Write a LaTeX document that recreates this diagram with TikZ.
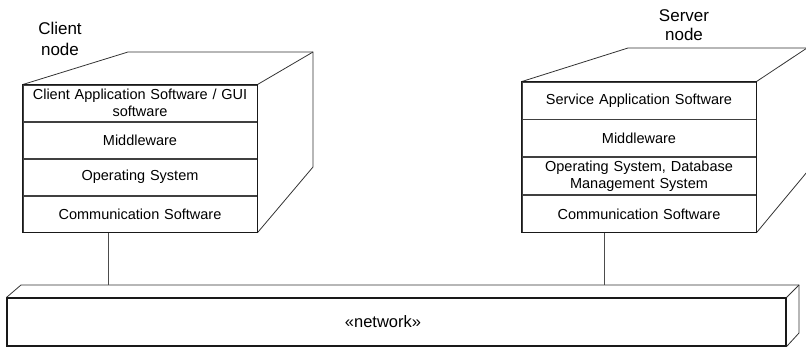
\documentclass[tikz,border=0pt]{standalone}
\usepackage{fontspec}
\setmainfont{Liberation Sans}
\usetikzlibrary{positioning,calc}

\begin{document}
\begin{tikzpicture}[x=1bp, y=-1bp,
    layer/.style={draw=black!75, line width=0.8pt, minimum width=234bp, text width=228bp, inner sep=0pt, align=center, font=\fontsize{14.5bp}{17bp}\selectfont},
    nodelabel/.style={align=center, inner sep=0pt, font=\fontsize{17bp}{21bp}\selectfont},
    face/.style={draw=black!90, line width=1.1pt},
    edge3d/.style={draw=black!80, line width=0.8pt},
    link/.style={draw=black!70, line width=0.9pt},
]
    \useasboundingbox (0,0) rectangle (806,348);

    % client node
    \node[nodelabel] (clabel) at (60,39) {Client\\node};
    \node[layer, minimum height=36.25bp] (capp) at (140,103.1) {Client Application Software / GUI\\software};
    \node[layer, minimum height=36.25bp, below=0pt of capp] (cmid)  {Middleware};
    \node[layer, minimum height=36.25bp, below=0pt of cmid]  (cos)   {Operating System};
    \node[layer, minimum height=36.25bp, below=0pt of cos]   (ccomm) {Communication Software};
    \coordinate (cbl) at (128,52);
    \coordinate (cbr) at (313,52);
    \coordinate (cbb) at (313,167);
    \draw[edge3d] (capp.north west) -- (cbl) -- (cbr) -- (cbb) -- (ccomm.south east);
    \draw[edge3d] (capp.north east) -- (cbr);
    \draw[face] (capp.north west) rectangle (ccomm.south east);

    % server node
    \node[nodelabel, font=\fontsize{17bp}{19bp}\selectfont] (slabel) at (684,25) {Server\\node};
    \node[layer, minimum height=37bp] (sapp) at (639,100.5) {Service Application Software};
    \node[layer, minimum height=37bp, below=0pt of sapp] (smid)  {Middleware};
    \node[layer, minimum height=37bp, below=0pt of smid] (sos)   {Operating System, Database\\Management System};
    \node[layer, minimum height=37bp, below=0pt of sos]  (scomm) {Communication Software};
    \coordinate (sbl) at (628,48);
    \coordinate (sbr) at (807,48);
    \coordinate (sbb) at (807,172);
    \draw[edge3d] (sapp.north west) -- (sbl) -- (sbr) -- (sbb) -- (scomm.south east);
    \draw[edge3d] (sapp.north east) -- (sbr);
    \draw[face] (sapp.north west) rectangle (scomm.south east);

    % network
    \node[draw=black!90, line width=1.1pt, minimum width=779bp, minimum height=48bp, inner sep=0pt] (net) at (396.5,322) {};
    \node[font=\fontsize{16.5bp}{19bp}\selectfont, inner sep=0pt] (nettext) at ([xshift=-13.5bp]net.center) {«network»};
    \coordinate (nbl) at (21,285);
    \coordinate (nbr) at (799,285);
    \coordinate (nbb) at (799,333);
    \draw[edge3d] (net.north west) -- (nbl) -- (nbr) -- (nbb) -- (net.south east);
    \draw[edge3d] (net.north east) -- (nbr);

    % links
    \coordinate (clink) at (108,285);
    \coordinate (slink) at (604,285);
    \draw[link] (ccomm.south -| clink) -- (clink);
    \draw[link] (scomm.south -| slink) -- (slink);
\end{tikzpicture}
\end{document}
